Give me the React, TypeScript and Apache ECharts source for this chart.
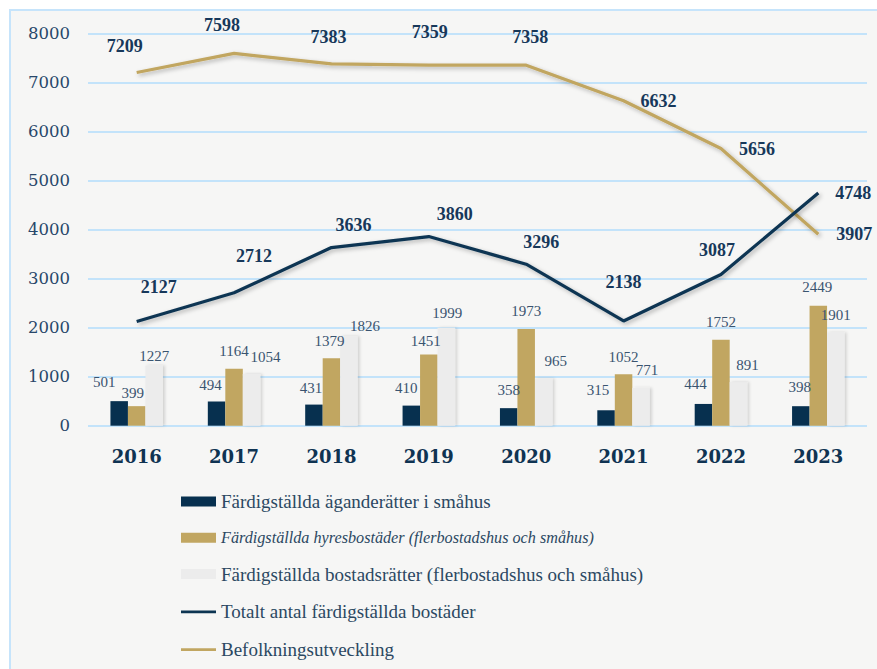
import React, { useEffect, useRef } from "react";
import * as echarts from "echarts";

const years = ["2016", "2017", "2018", "2019", "2020", "2021", "2022", "2023"];
const agande = [501, 494, 431, 410, 358, 315, 444, 398];
const hyres = [399, 1164, 1379, 1451, 1973, 1052, 1752, 2449];
const bostadsratt = [1227, 1054, 1826, 1999, 965, 771, 891, 1901];
const totalt = [2127, 2712, 3636, 3860, 3296, 2138, 3087, 4748];
const befolkning = [7209, 7598, 7383, 7359, 7358, 6632, 5656, 3907];
const yTicks = [0, 1000, 2000, 3000, 4000, 5000, 6000, 7000, 8000];

const seriesNames = [
  "Färdigställda äganderätter i småhus",
  "Färdigställda hyresbostäder (flerbostadshus och småhus)",
  "Färdigställda bostadsrätter (flerbostadshus och småhus)",
  "Totalt antal färdigställda bostäder",
  "Befolkningsutveckling",
];

// label nudges (layout only)
const agandeLabelOffsets = [[-15, -2], [-6, 1], [-3, 1], [-5, 0], [0, -1], [-8, -3], [-8, -2], [-1, -2]];
const hyresLabelOffsets = [[-4, 4], [0, 0], [-2, 0], [-3, 4], [0, -1], [0, 0], [0, 0], [-1, -1]];
const bostadsLabelOffsets = [[0, 8], [14, 0], [16, 7], [1, 3], [12, 0], [6, 0], [9, 0], [0, 0]];
const totaltLabelOffsets = [[22, -34], [20, -37], [22, -23], [26, -23], [15, -22], [0, -39], [-4, -24], [35, 0]];
const befolkningLabelOffsets = [[-12, -26], [-12, -28], [-3, -27], [1, -33], [4, -28], [35, 0], [36, 0], [36, 0]];

const NAVY = "#07304f";
const GOLD = "#c1a661";
const GRAY = "#ececec";

export default function App() {
  const ref = useRef<HTMLDivElement>(null);
  useEffect(() => {
    if (!ref.current) return;
    const chart = echarts.init(ref.current, null, { renderer: "svg" });
    const barLabel = {
      show: true,
      position: "top",
      distance: 10,
      fontFamily: "Liberation Serif",
      fontSize: 15,
      color: "#3a5470",
    };
    const barData = (vals: number[], offs: number[][]) =>
      vals.map((v, i) => ({ value: v, label: { offset: offs[i] } }));
    const lineLabel = {
      show: true,
      position: "inside",
      fontFamily: "Liberation Serif",
      fontWeight: "bold",
      fontSize: 18,
      color: "#17385a",
    };
    const lineData = (vals: number[], offs: number[][]) =>
      vals.map((v, i) => ({ value: v, label: { offset: offs[i] } }));
    const shadow = {
      shadowColor: "rgba(0,0,0,0.28)",
      shadowBlur: 4,
      shadowOffsetX: 2,
      shadowOffsetY: 2,
    };
    const legendText = {
      fontFamily: "Liberation Serif",
      fontSize: 19,
      color: "#2b4862",
    };
    chart.setOption({
      animation: false,
      backgroundColor: "#ffffff",
      graphic: [
        {
          type: "rect",
          z: -10,
          shape: { x: 10, y: 10, width: 900, height: 700 },
          style: { fill: "#f6f6f5", stroke: "#c6e4fb", lineWidth: 2 },
          silent: true,
        },
      ],
      grid: { left: 88, right: 10, top: 33.7, bottom: 243.3, containLabel: false },
      legend: {
        orient: "vertical",
        left: 176,
        top: 487,
        itemWidth: 35,
        itemHeight: 10,
        itemGap: 18.8,
        textStyle: legendText,
        data: [
          { name: seriesNames[0], icon: "rect" },
          {
            name: seriesNames[1],
            icon: "rect",
            textStyle: { fontStyle: "italic", fontSize: 16.2 },
          },
          { name: seriesNames[2], icon: "rect" },
          { name: seriesNames[3], icon: "path://M0 0H40V3.2H0Z" },
          { name: seriesNames[4], icon: "path://M0 0H40V3.2H0Z" },
        ],
      },
      xAxis: {
        type: "category",
        data: years,
        axisLine: { show: false },
        axisTick: { show: false },
        axisLabel: {
          margin: 22,
          fontFamily: "DejaVu Serif",
          fontWeight: "bold",
          fontSize: 18,
          color: "#0f3352",
        },
      },
      yAxis: {
        type: "value",
        min: yTicks[0],
        max: yTicks[yTicks.length - 1],
        interval: 1000,
        axisLine: { show: false },
        axisTick: { show: false },
        splitLine: { lineStyle: { color: "#c3e3fa", width: 2 } },
        axisLabel: {
          margin: 18,
          fontFamily: "DejaVu Serif",
          fontSize: 16.5,
          color: "#28476a",
          formatter: (v: number) => String(v),
        },
      },
      series: [
        {
          name: seriesNames[0],
          type: "bar",
          barWidth: 17.5,
          barGap: "0%",
          itemStyle: { color: NAVY },
          label: barLabel,
          data: barData(agande, agandeLabelOffsets),
        },
        {
          name: seriesNames[1],
          type: "bar",
          barWidth: 17.5,
          barGap: "0%",
          itemStyle: { color: GOLD },
          label: barLabel,
          data: barData(hyres, hyresLabelOffsets),
        },
        {
          name: seriesNames[2],
          type: "bar",
          barWidth: 17.5,
          barGap: "0%",
          itemStyle: {
            color: GRAY,
            shadowColor: "rgba(0,0,0,0.15)",
            shadowBlur: 3,
            shadowOffsetX: 2,
          },
          label: barLabel,
          data: barData(bostadsratt, bostadsLabelOffsets),
        },
        {
          name: seriesNames[3],
          type: "line",
          symbol: "circle",
          symbolSize: 0.1,
          itemStyle: { color: "#0d3452" },
          lineStyle: { color: "#0d3452", width: 3.2, ...shadow },
          label: lineLabel,
          data: lineData(totalt, totaltLabelOffsets),
          z: 5,
        },
        {
          name: seriesNames[4],
          type: "line",
          symbol: "circle",
          symbolSize: 0.1,
          itemStyle: { color: GOLD },
          lineStyle: { color: GOLD, width: 3.2, ...shadow },
          label: lineLabel,
          data: lineData(befolkning, befolkningLabelOffsets),
          z: 4,
        },
      ],
    });
    return () => chart.dispose();
  }, []);
  return (
    <div
      ref={ref}
      style={{ position: "fixed", left: 0, top: 0, width: 877, height: 669 }}
    />
  );
}
